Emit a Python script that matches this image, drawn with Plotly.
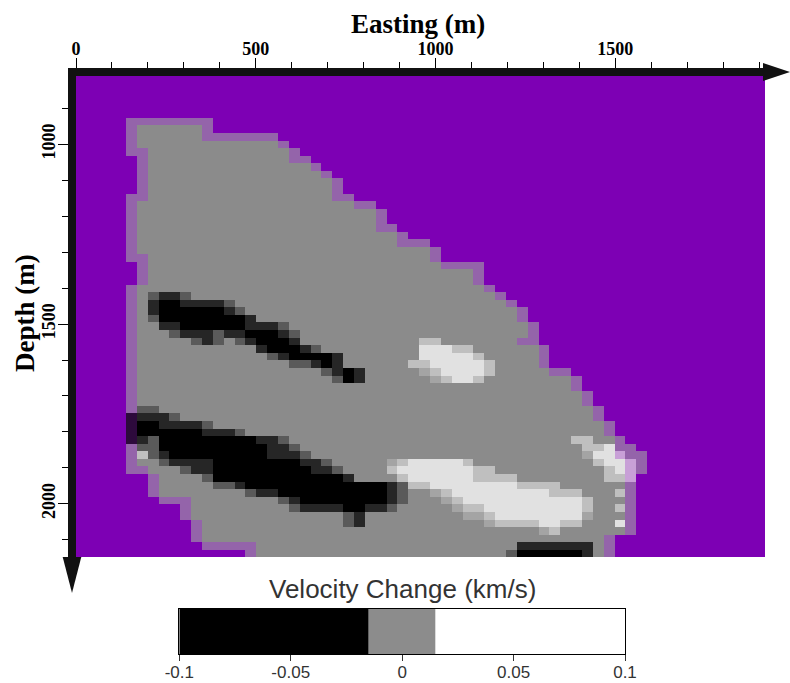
import numpy as np
import plotly.graph_objects as go

W, H = 790, 683

# ---------------- data: velocity-change grid ----------------
# grid geometry (metres)
CELL_X0, CELL_DX, N_COLS = 18.4, 30.2, 63
CELL_Y0, CELL_DY, N_ROWS = 800.0, 21.06, 64

# cell codes -> velocity change (km/s)
VELOCITY_CODES = {"k": -0.1, "d": -0.07, "m": -0.035, "g": 0.0,
                  "n": 0.015, "l": 0.04, "w": 0.1}
# edge cells (blend of the masked purple background with the data)
EDGE_CODES = {"p": 0, "q": 1, "v": 2}

# outline of the imaged body, per row:
# (row, left_edge_start, data_start, data_end, right_edge_end)
OUTLINE_ROWS = [
    (6, 4, 12, 11, 11), (7, 4, 5, 10, 11), (8, 4, 5, 10, 17), (9, 4, 5, 17, 18),
    (10, 4, 6, 18, 19), (11, 5, 6, 18, 20), (12, 5, 6, 20, 21), (13, 5, 6, 21, 22),
    (14, 5, 6, 22, 23), (15, 5, 6, 22, 23), (16, 4, 6, 22, 24), (17, 4, 5, 24, 26),
    (18, 4, 5, 26, 27), (19, 4, 5, 26, 27), (20, 4, 5, 26, 28), (21, 4, 5, 28, 29),
    (22, 4, 5, 28, 31), (23, 4, 5, 31, 32), (24, 4, 6, 31, 32), (25, 5, 6, 32, 36),
    (26, 5, 6, 35, 36), (27, 5, 6, 35, 36), (28, 4, 5, 36, 37), (29, 4, 5, 37, 38),
    (30, 4, 5, 38, 39), (31, 4, 5, 39, 40), (32, 4, 5, 39, 40), (33, 4, 5, 40, 41),
    (34, 4, 5, 40, 41), (35, 4, 5, 39, 41), (36, 4, 5, 41, 42), (37, 4, 5, 41, 42),
    (38, 4, 5, 41, 42), (39, 4, 5, 42, 44), (40, 4, 5, 44, 45), (41, 4, 5, 44, 45),
    (42, 4, 5, 45, 46), (43, 4, 5, 45, 46), (44, 4, 5, 46, 47), (45, 4, 5, 46, 47),
    (46, 4, 5, 47, 48), (47, 4, 5, 47, 48), (48, 4, 5, 48, 49), (49, 4, 5, 48, 50),
    (50, 4, 5, 48, 51), (51, 4, 5, 49, 51), (52, 4, 6, 49, 51), (53, 6, 7, 49, 50),
    (54, 6, 7, 49, 50), (55, 6, 7, 49, 50), (56, 7, 10, 49, 50), (57, 9, 10, 49, 50),
    (58, 9, 10, 49, 50), (59, 10, 11, 49, 50), (60, 10, 11, 49, 50), (61, 10, 11, 47, 48),
    (62, 11, 16, 47, 48), (63, 15, 16, 47, 48),
]

# anomalies painted over the outline: (row, first_col, codes)
UPPER_SLOW = [
    (29, 6, "mddm"), (30, 6, "dkkddddm"), (31, 6, "dkkkkkkdm"), (32, 6, "mkkkkkkkkd"),
    (33, 7, "ddkkkkkkdddm"), (34, 8, "mdddmddkkkdm"), (35, 10, "mdmgmdkkkd"),
    (36, 16, "dkkkdm"), (37, 17, "mdkkkkd"), (38, 19, "mmdkd"), (39, 22, "mdkd"),
    (40, 23, "mkd"),
]
LOWER_SLOW = [
    (44, 5, "mm"), (45, 4, "qdddm"), (46, 4, "qkkddddm"), (47, 4, "qkkkkkkdddm"),
    (48, 4, "qdmkkkkkkkkkddm"), (49, 4, "pmmkkkkkkkkkkddm"), (50, 4, "plmdkkkkkkkkkdddm"),
    (51, 7, "mddddkkkkkkkkddm"), (52, 9, "mddkkkkkkkkkddm"), (53, 11, "mkkkkkkkkkkkkd"),
    (54, 12, "mmdkkkkkkkkkkkkkdm"), (55, 15, "mddkkkkkkkkkkdm"), (56, 18, "mdkkkkkkkkdm"),
    (57, 19, "mddddkkddm"), (58, 24, "md"), (59, 24, "md"),
    (62, 40, "ddddddd"), (63, 39, "mkkkkkkd"),
]
UPPER_FAST = [
    (35, 31, "ll"), (36, 31, "wwwll"), (37, 31, "wwwwwl"), (38, 30, "llwwwwwl"),
    (39, 31, "nlwwwwl"), (40, 32, "nlwwl"),
]
LOWER_FAST = [
    (51, 28, "nlwwwwwl"), (52, 28, "lwwwwwwwll"), (53, 29, "lwwwwwwllll"),
    (54, 30, "llwwwwwwwwllll"), (55, 32, "nlwwwwwwwwwlll"), (56, 33, "nlwwwwwwwwwwwl"),
    (57, 34, "nllwwwwwwwwwl"), (58, 35, "nnlwwwwwwwwn"), (59, 37, "nllllwwll"),
    (60, 42, "nl"),
    (48, 45, "ll"), (49, 46, "llw"), (50, 46, "nwwv"), (51, 47, "lwwv"),
    (52, 48, "lwv"), (53, 48, "llv"), (55, 49, "l"), (57, 49, "l"), (59, 49, "w"),
]

# colour bar
CB_EDGES = [-0.1, -0.015, 0.015, 0.1]
CB_VALUES = [-0.05, 0.0, 0.05]
CB_TICKS = [-0.1, -0.05, 0, 0.05, 0.1]
CB_TICKTEXT = ["-0.1", "-0.05", "0", "0.05", "0.1"]

X_TICK0, X_DTICK, X_MINOR = 0, 500, 100
Y_TICK0, Y_DTICK, Y_MINOR = 0, 500, 100

# ---------------- build grids ----------------
grid = [["P"] * N_COLS for _ in range(N_ROWS)]
for r, lb, ds, de, re in OUTLINE_ROWS:
    for c in range(lb, ds):
        grid[r][c] = "p"
    for c in range(ds, de + 1):
        grid[r][c] = "g"
    for c in range(de + 1, re + 1):
        grid[r][c] = "p"
for r, c0, codes in UPPER_SLOW + LOWER_SLOW + UPPER_FAST + LOWER_FAST:
    for i, ch in enumerate(codes):
        if 0 <= c0 + i < N_COLS:
            grid[r][c0 + i] = ch

z_vel = np.array([[VELOCITY_CODES.get(ch, np.nan) for ch in row] for row in grid], dtype=float)
z_edge = np.array([[EDGE_CODES.get(ch, np.nan) for ch in row] for row in grid], dtype=float)

x_edges = CELL_X0 + CELL_DX * np.arange(N_COLS + 1)
y_edges = CELL_Y0 + CELL_DY * np.arange(N_ROWS + 1)

PURPLE = "#7d00b4"
vel_scale = [[0.0, "#000000"], [0.15, "#262626"], [0.325, "#5a5a5a"], [0.5, "#8b8b8b"],
             [0.575, "#a4a4a4"], [0.7, "#bfbfbf"], [1.0, "#e1e1e1"]]
edge_scale = [[0.0, "#9464aa"], [0.25, "#9464aa"], [0.25, "#2d0a3c"], [0.75, "#2d0a3c"],
              [0.75, "#c8a0d7"], [1.0, "#c8a0d7"]]
cb_scale = [[0.0, "#000000"], [0.375, "#000000"], [0.375, "#8c8c8c"], [0.625, "#8c8c8c"],
            [0.625, "#ffffff"], [1.0, "#ffffff"]]

fig = go.Figure()
fig.add_trace(go.Heatmap(x=x_edges, y=y_edges, z=z_vel, colorscale=vel_scale,
                         zmin=-0.1, zmax=0.1, showscale=False, hoverinfo="skip",
                         xaxis="x", yaxis="y"))
fig.add_trace(go.Heatmap(x=x_edges, y=y_edges, z=z_edge, colorscale=edge_scale,
                         zmin=0, zmax=2, showscale=False, hoverinfo="skip",
                         xaxis="x", yaxis="y"))
fig.add_trace(go.Heatmap(x=CB_EDGES, y=[0, 1], z=[CB_VALUES], colorscale=cb_scale,
                         zmin=-0.1, zmax=0.1, showscale=False, hoverinfo="skip",
                         xaxis="x2", yaxis="y2"))

# ---------------- layout (pixel based) ----------------
PX_M = 0.3595
PL, PR, PT, PB = 76, 765, 76, 557


def px(x):
    return x / W


def py(y):
    return 1 - y / H


serif = dict(family="Liberation Serif", size=18, color="black", weight="bold")
fig.update_layout(
    template="none",
    width=W, height=H, margin=dict(l=0, r=0, t=0, b=0, autoexpand=False),
    paper_bgcolor="white", plot_bgcolor="white", showlegend=False,
    xaxis=dict(domain=[px(PL), px(PR)], range=[0, (PR - PL) / PX_M], side="top",
               anchor="y", automargin=False, showline=True, linewidth=8,
               linecolor="#111111", showgrid=False, zeroline=False, ticks="outside",
               ticklen=10, tickwidth=1, tickcolor="black", tickmode="linear",
               tick0=X_TICK0, dtick=X_DTICK, tickfont=serif, ticklabelstandoff=-4,
               minor=dict(tick0=0, dtick=X_MINOR, ticks="outside", ticklen=6,
                          tickwidth=1, tickcolor="black", showgrid=False)),
    yaxis=dict(domain=[py(PB), py(PT)], range=[810 + (PB - PT) / PX_M, 810],
               anchor="x", side="left", automargin=False, showline=True, linewidth=8,
               linecolor="#111111", showgrid=False, zeroline=False, ticks="outside",
               ticklen=10, tickwidth=1, tickcolor="black", tickmode="linear",
               tick0=Y_TICK0, dtick=Y_DTICK, tickfont=serif, tickangle=-90,
               ticklabelstandoff=-4,
               minor=dict(tick0=0, dtick=Y_MINOR, ticks="outside", ticklen=6,
                          tickwidth=1, tickcolor="black", showgrid=False)),
    xaxis2=dict(domain=[px(179.3), px(625)], range=[-0.1, 0.1], anchor="y2",
                automargin=False, showline=True, mirror=True, linecolor="black",
                linewidth=1, showgrid=False, zeroline=False, ticks="outside",
                ticklen=6, tickwidth=1, tickcolor="#333333", tickmode="array",
                tickvals=CB_TICKS, ticktext=CB_TICKTEXT, ticklabelstandoff=-3,
                tickfont=dict(family="Liberation Sans", size=17, color="#333333")),
    yaxis2=dict(domain=[py(654), py(609)], range=[0, 1], anchor="x2",
                automargin=False, showline=True, mirror=True, linecolor="black",
                linewidth=1, showgrid=False, zeroline=False, showticklabels=False,
                ticks=""),
)

# masked (purple) background of the section
fig.add_shape(type="rect", xref="x domain", yref="y domain", x0=0, x1=1, y0=0, y1=1,
              fillcolor=PURPLE, line=dict(width=0), layer="below")

# axis arrows
fig.add_shape(type="path", xref="paper", yref="paper", line=dict(width=0),
              fillcolor="#111111",
              path=f"M {px(763)} {py(63)} L {px(790)} {py(72)} L {px(763)} {py(81)} Z")
fig.add_shape(type="path", xref="paper", yref="paper", line=dict(width=0),
              fillcolor="#111111",
              path=f"M {px(62.7)} {py(557)} L {px(81.3)} {py(557)} L {px(72)} {py(593)} Z")

# titles
fig.add_annotation(text="Easting (m)", x=px(418), y=py(24), xref="paper", yref="paper",
                   showarrow=False, xanchor="center", yanchor="middle", borderpad=0,
                   font=dict(family="Liberation Serif", size=27, color="black", weight="bold"))
fig.add_annotation(text="Depth (m)", x=px(25), y=py(313), xref="paper", yref="paper",
                   showarrow=False, xanchor="center", yanchor="middle", textangle=-90,
                   borderpad=0,
                   font=dict(family="Liberation Serif", size=27, color="black", weight="bold"))
fig.add_annotation(text="Velocity Change (km/s)", x=px(402), y=py(589), xref="paper",
                   yref="paper", showarrow=False, xanchor="center", yanchor="middle",
                   font=dict(family="Liberation Sans", size=26, color="#333333"))

fig.write_html("out.html",
               config={"displayModeBar": False, "staticPlot": True},
               post_script="document.body.style.margin='0';"
                           "document.body.style.overflow='hidden';")
